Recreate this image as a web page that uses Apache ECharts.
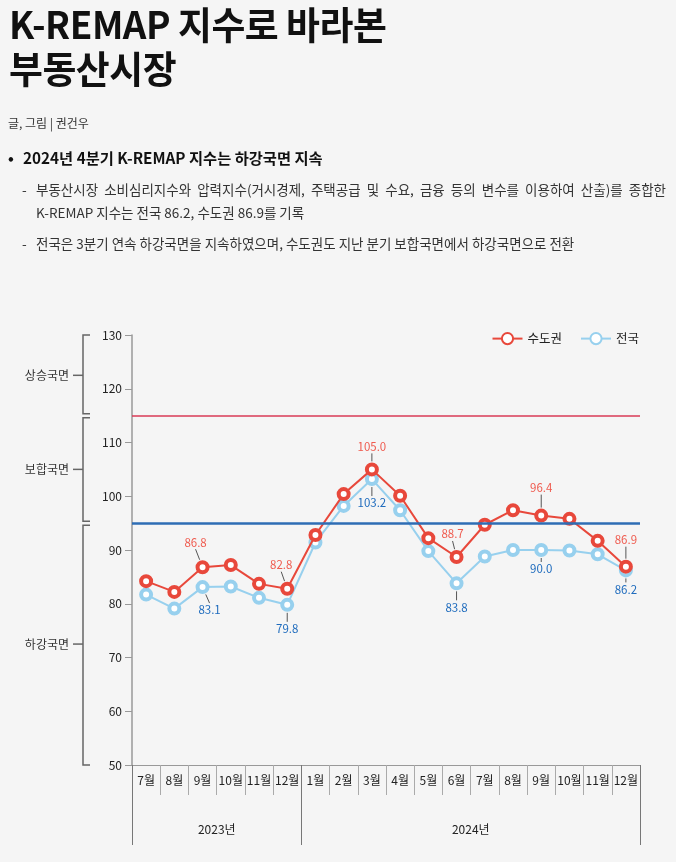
<!DOCTYPE html>
<html>
<head>
<meta charset="utf-8">
<script src="https://cdn.jsdelivr.net/npm/echarts@6/dist/echarts.min.js"></script>
<style>
  html, body { margin: 0; padding: 0; background: #f5f5f5; }
  body { width: 676px; height: 862px; position: relative; overflow: hidden; font-family: "Noto Sans CJK KR", sans-serif; color: #222; }
  #chart { position: absolute; left: 0; top: 0; width: 676px; height: 862px; }
  .head { position: absolute; left: 0; top: 0; width: 676px; z-index: 2; }
  .title { position: absolute; left: 9px; top: 1px; margin: 0; font-size: 38px; line-height: 44px; font-weight: 700; color: #111; transform: scaleX(0.97); transform-origin: left top; white-space: nowrap; letter-spacing: -0.5px; }
  .by { position: absolute; left: 8px; top: 114px; font-size: 12px; color: #333; }
  .point { position: absolute; left: 8px; top: 146px; font-size: 15.3px; font-weight: 700; color: #111; }
  .point span { display: inline-block; width: 15px; }
  .sub { position: absolute; left: 22px; width: 644px; font-size: 13.5px; line-height: 23px; color: #333; }
  .sub div { padding-left: 14px; }
  .sub .dash { display: inline-block; width: 14px; margin-left: -14px; }
  .sub .just { text-align: justify; text-align-last: justify; }
</style>
</head>
<body>
<div class="head">
  <div class="title">K-REMAP 지수로 바라본<br>부동산시장</div>
  <div class="by">글, 그림 | 권건우</div>
  <div class="point"><span>•</span>2024년 4분기 K-REMAP 지수는 하강국면 지속</div>
  <div class="sub" style="top:178px">
    <div class="just"><span class="dash">-</span>부동산시장 소비심리지수와 압력지수(거시경제, 주택공급 및 수요, 금융 등의 변수를 이용하여 산출)를 종합한</div>
    <div>K-REMAP 지수는 전국 86.2, 수도권 86.9를 기록</div>
  </div>
  <div class="sub" style="top:232px"><div><span class="dash">-</span>전국은 3분기 연속 하강국면을 지속하였으며, 수도권도 지난 분기 보합국면에서 하강국면으로 전환</div></div>
</div>
<div id="chart"></div>
<script>
// 월별 K-REMAP 지수 (2023.7 ~ 2024.12)
const months = ['7월', '8월', '9월', '10월', '11월', '12월',
  '1월', '2월', '3월', '4월', '5월', '6월', '7월', '8월', '9월', '10월', '11월', '12월'];
const years = ['2023년', '2024년'];
const capital = [84.2, 82.2, 86.8, 87.2, 83.7, 82.8, 92.8, 100.4, 105.0, 100.1, 92.2, 88.7, 94.7, 97.4, 96.4, 95.8, 91.7, 86.9];
const nation = [81.7, 79.1, 83.1, 83.2, 81.1, 79.8, 91.4, 98.2, 103.2, 97.4, 89.8, 83.8, 88.8, 90.0, 90.0, 89.9, 89.2, 86.2];
const labelIdx = [2, 5, 8, 11, 14, 17];
// 국면 구분 기준선
const phaseNames = ['상승국면', '보합국면', '하강국면'];
const phaseBounds = [[130, 115], [115, 95], [95, 50]];
const yTicks = { min: 50, max: 130, step: 10 };

const RED = '#e8483b';
const BLUE = '#97d0ee';

// label offsets from point (px)
const redOffsets = [[-7, -25], [-6, -24], [0, -23], [-4, -23], [0, -28], [0, -27]];
const blueOffsets = [[7, 23], [0, 24], [0, 24], [0, 24], [0, 19], [0, 19]];

// year boundaries: where a new year starts
const yearStarts = [0];
months.forEach((m, i) => { if (i > 0 && m === '1월') yearStarts.push(i); });
const yearMids = yearStarts.map((s, k) => {
  const e = k + 1 < yearStarts.length ? yearStarts[k + 1] : months.length;
  return (s + e) / 2;
});

function annotation (values, offsets, color) {
  return {
    type: 'custom',
    clip: false,
    silent: true,
    z: 5,
    encode: { x: 0, y: 1 },
    data: labelIdx.map(i => [i, values[i]]),
    renderItem: function (params, api) {
      const p = api.coord([api.value(0), api.value(1)]);
      const off = offsets[params.dataIndex];
      const lx = p[0] + off[0];
      const ly = p[1] + off[1];
      const ay = ly + (off[1] < 0 ? 7 : -7);
      const vx = p[0] - lx;
      const vy = p[1] - ay;
      const len = Math.sqrt(vx * vx + vy * vy);
      const ex = p[0] - vx / len * 8;
      const ey = p[1] - vy / len * 8;
      return {
        type: 'group',
        children: [
          { type: 'line', shape: { x1: lx, y1: ay, x2: ex, y2: ey }, style: { stroke: '#555', lineWidth: 1 } },
          { type: 'text', x: lx, y: ly, style: { text: api.value(1).toFixed(1), fill: color, font: '11.5px "Noto Sans CJK KR", sans-serif', align: 'center', verticalAlign: 'middle' } }
        ]
      };
    }
  };
}

const chart = echarts.init(document.getElementById('chart'));
chart.setOption({
  backgroundColor: '#f5f5f5',
  animation: false,
  textStyle: { fontFamily: '"Noto Sans CJK KR", sans-serif' },
  legend: {
    data: ['수도권', '전국'],
    right: 32,
    top: 327,
    itemWidth: 30,
    itemHeight: 14,
    itemGap: 18,
    textStyle: { fontSize: 12.5, color: '#222' }
  },
  grid: { left: 132, right: 36, top: 335, bottom: 97 },
  xAxis: [
    {
      type: 'category',
      data: months,
      boundaryGap: true,
      axisLine: { lineStyle: { color: '#999', width: 1 } },
      axisTick: { show: true, interval: 0, length: 30, lineStyle: { color: '#aaa' } },
      axisLabel: { interval: 0, margin: 9, fontSize: 12, color: '#222' }
    },
    {
      type: 'category',
      data: months,
      position: 'bottom',
      boundaryGap: true,
      axisLine: { show: false },
      axisTick: { show: true, interval: (i) => yearStarts.indexOf(i) >= 0, length: 80, lineStyle: { color: '#777' } },
      axisLabel: {
        interval: (i) => yearMids.indexOf(i) >= 0,
        formatter: (v, i) => years[yearMids.indexOf(i)] || '',
        margin: 58,
        padding: [0, 28, 0, 0],
        fontSize: 12,
        color: '#222'
      }
    }
  ],
  yAxis: {
    type: 'value',
    min: yTicks.min,
    max: yTicks.max,
    interval: yTicks.step,
    axisLine: { show: true, lineStyle: { color: '#999', width: 1.5 } },
    axisTick: { show: true, length: 7, lineStyle: { color: '#999' } },
    axisLabel: { margin: 10, fontSize: 12, color: '#222' },
    splitLine: { show: false }
  },
  series: [
    {
      name: '전국',
      type: 'line',
      data: nation,
      symbol: 'circle',
      symbolSize: 10,
      lineStyle: { color: BLUE, width: 2 },
      itemStyle: { color: '#fff', borderColor: BLUE, borderWidth: 4 },
      z: 3
    },
    {
      name: '수도권',
      type: 'line',
      data: capital,
      symbol: 'circle',
      symbolSize: 10,
      lineStyle: { color: RED, width: 2 },
      itemStyle: { color: '#fff', borderColor: RED, borderWidth: 4 },
      z: 4,
      markLine: {
        silent: true,
        symbol: 'none',
        label: { show: false },
        data: [
          { yAxis: 115, lineStyle: { color: '#d93a56', width: 1.5, type: 'solid' } },
          { yAxis: 95, lineStyle: { color: '#2e6db4', width: 2.5, type: 'solid' } }
        ]
      }
    },
    annotation(capital, redOffsets, '#ef5b4f'),
    annotation(nation, blueOffsets, '#1e6bbd'),
    {
      type: 'custom',
      clip: false,
      silent: true,
      encode: { x: 0, y: [1, 2] },
      data: phaseBounds.map(b => [0, b[0], b[1]]),
      renderItem: function (params, api) {
        const top = api.value(1);
        const bot = api.value(2);
        const y1 = api.coord([0, top])[1] + (top < yTicks.max ? 2 : 0);
        const y2 = api.coord([0, bot])[1] - (bot > yTicks.min ? 2 : 0);
        const x = params.coordSys.x - 49;
        const ym = api.coord([0, (top + bot) / 2])[1];
        const st = { stroke: '#666', lineWidth: 1.5 };
        return {
          type: 'group',
          children: [
            { type: 'polyline', shape: { points: [[x + 7, y1], [x, y1], [x, y2], [x + 7, y2]] }, style: Object.assign({ fill: null }, st) },
            { type: 'line', shape: { x1: x - 10, y1: ym, x2: x, y2: ym }, style: st },
            { type: 'text', x: x - 14, y: ym, style: { text: phaseNames[params.dataIndex], fill: '#333', font: '12px "Noto Sans CJK KR", sans-serif', align: 'right', verticalAlign: 'middle' } }
          ]
        };
      }
    }
  ]
});
</script>
</body>
</html>
